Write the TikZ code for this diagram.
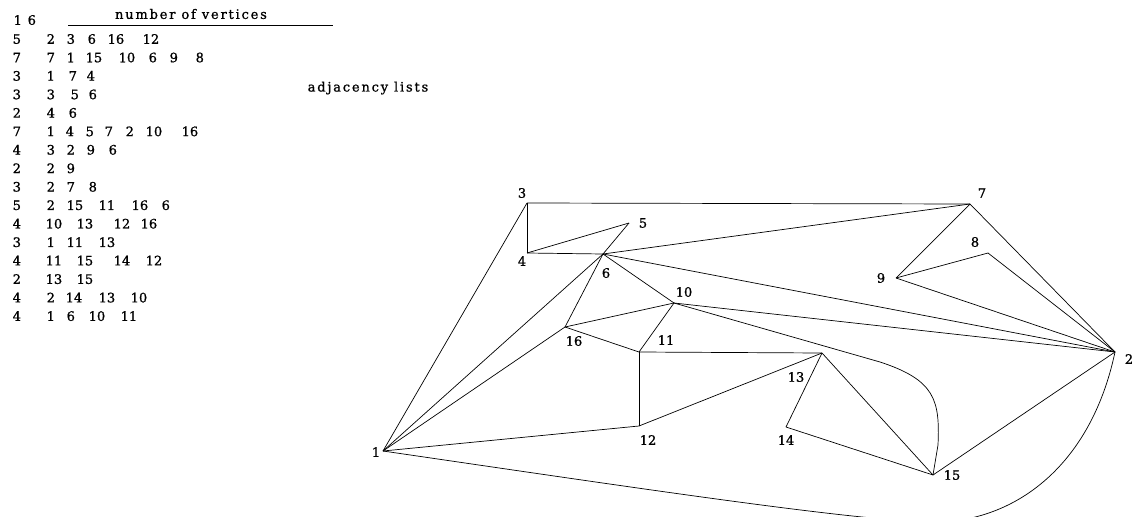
\documentclass[tikz,border=0pt]{standalone}
\usepackage{fontspec}
\setmainfont{DejaVu Serif}
\newfontfamily\boldfont[FakeBold=1]{DejaVu Serif}
\newfontfamily\spacedfont[LetterSpace=14,FakeBold=1]{DejaVu Serif}
\newcommand{\itm}[2]{\rlap{\hskip#1pt\relax #2}}
\begin{document}
\begin{tikzpicture}[x=1pt,y=-1pt,
  txt/.style={inner sep=0pt, font=\fontsize{13}{13}\boldfont},
  lst/.style={txt, anchor=west, text height=9.5pt, text depth=0pt},
  vtx/.style={inner sep=0pt, minimum size=0pt, outer sep=0pt},
  lbl/.style={txt},
  lnk/.style={line width=0.7pt, line join=round}
]
\useasboundingbox (0,0) rectangle (1136,517);
\clip (0,0) rectangle (1136,517);

% ---------- adjacency lists text ----------
\node[lst] (r0)  at (13,20)    {\itm{0}{1}\itm{14}{6}};
\node[txt, font=\fontsize{13}{13}\spacedfont] (title) at (191,14) {number of vertices};
\coordinate (ul) at (68,25);
\coordinate (ur) at (333,25);
\draw[line width=0.8pt] (ul) -- (ur);
\node[txt, font=\fontsize{13}{13}\spacedfont] (adj) at (368,88) {adjacency lists};

\node[lst] (r1)  at (12,39.0)  {\itm{0}{5}\itm{34}{2}\itm{54}{3}\itm{75}{6}\itm{95}{16}\itm{130}{12}};
\node[lst] (r2)  at (12,57.5)  {\itm{0}{7}\itm{34}{7}\itm{54}{1}\itm{73}{15}\itm{106}{10}\itm{136}{6}\itm{157}{9}\itm{183}{8}};
\node[lst] (r3)  at (12,75.9)  {\itm{0}{3}\itm{34}{1}\itm{56}{7}\itm{74}{4}};
\node[lst] (r4)  at (12,94.4)  {\itm{0}{3}\itm{34}{3}\itm{58}{5}\itm{76}{6}};
\node[lst] (r5)  at (12,112.9) {\itm{0}{2}\itm{34}{4}\itm{56}{6}};
\node[lst] (r6)  at (12,131.4) {\itm{0}{7}\itm{34}{1}\itm{53}{4}\itm{73}{5}\itm{92}{7}\itm{113}{2}\itm{133}{10}\itm{169}{16}};
\node[lst] (r7)  at (12,149.8) {\itm{0}{4}\itm{34}{3}\itm{54}{2}\itm{74}{9}\itm{96}{6}};
\node[lst] (r8)  at (12,168.3) {\itm{0}{2}\itm{34}{2}\itm{54}{9}};
\node[lst] (r9)  at (12,186.8) {\itm{0}{3}\itm{34}{2}\itm{54}{7}\itm{76}{8}};
\node[lst] (r10) at (12,205.2) {\itm{0}{5}\itm{34}{2}\itm{54}{15}\itm{86}{11}\itm{119}{16}\itm{149}{6}};
\node[lst] (r11) at (12,223.7) {\itm{0}{4}\itm{33}{10}\itm{64}{13}\itm{101}{12}\itm{128}{16}};
\node[lst] (r12) at (12,242.2) {\itm{0}{3}\itm{34}{1}\itm{54}{11}\itm{86}{13}};
\node[lst] (r13) at (12,260.6) {\itm{0}{4}\itm{33}{11}\itm{64}{15}\itm{101}{14}\itm{133}{12}};
\node[lst] (r14) at (12,279.1) {\itm{0}{2}\itm{33}{13}\itm{64}{15}};
\node[lst] (r15) at (12,297.6) {\itm{0}{4}\itm{34}{2}\itm{53}{14}\itm{86}{13}\itm{118}{10}};
\node[lst] (r16) at (12,316.1) {\itm{0}{4}\itm{34}{1}\itm{54}{6}\itm{76}{10}\itm{108}{11}};

% ---------- graph vertices ----------
\node[vtx] (v1)  at (383,451) {};
\node[vtx] (v2)  at (1115,352) {};
\node[vtx] (v3)  at (527,203) {};
\node[vtx] (v4)  at (527,253) {};
\node[vtx] (v5)  at (629,223) {};
\node[vtx] (v6)  at (603,254) {};
\node[vtx] (v7)  at (970,204) {};
\node[vtx] (v8)  at (988,253) {};
\node[vtx] (v9)  at (896,278) {};
\node[vtx] (v10) at (674,303) {};
\node[vtx] (v11) at (639,352) {};
\node[vtx] (v12) at (639,426) {};
\node[vtx] (v13) at (822,353) {};
\node[vtx] (v14) at (786,427) {};
\node[vtx] (v15) at (933,475) {};
\node[vtx] (v16) at (565,327) {};

% ---------- vertex labels ----------
\node[lbl] (l1)  at (376,452) {1};
\node[lbl] (l2)  at (1129,359) {2};
\node[lbl] (l3)  at (522,193) {3};
\node[lbl] (l4)  at (522,261) {4};
\node[lbl] (l5)  at (643,223) {5};
\node[lbl] (l6)  at (606,273) {6};
\node[lbl] (l7)  at (982,193) {7};
\node[lbl] (l8)  at (975,242) {8};
\node[lbl] (l9)  at (881,278) {9};
\node[lbl] (l10) at (684,292) {10};
\node[lbl] (l11) at (666,340) {11};
\node[lbl] (l12) at (648,440) {12};
\node[lbl] (l13) at (796,377) {13};
\node[lbl] (l14) at (786,440) {14};
\node[lbl] (l15) at (952,475) {15};
\node[lbl] (l16) at (574,341) {16};

% ---------- edges ----------
\draw[lnk] (v1) -- (v3);
\draw[lnk] (v1) -- (v6);
\draw[lnk] (v1) -- (v16);
\draw[lnk] (v1) -- (v12);
\draw[lnk] (v1) .. controls (650,490) and (850,520) .. (930,522)
                .. controls (1010,524) and (1090,470) .. (v2);
\draw[lnk] (v2) -- (v7);
\draw[lnk] (v2) -- (v15);
\draw[lnk] (v2) -- (v10);
\draw[lnk] (v2) -- (v6);
\draw[lnk] (v2) -- (v9);
\draw[lnk] (v2) -- (v8);
\draw[lnk] (v3) -- (v7);
\draw[lnk] (v3) -- (v4);
\draw[lnk] (v4) -- (v5);
\draw[lnk] (v4) -- (v6);
\draw[lnk] (v5) -- (v6);
\draw[lnk] (v6) -- (v7);
\draw[lnk] (v6) -- (v10);
\draw[lnk] (v6) -- (v16);
\draw[lnk] (v7) -- (v9);
\draw[lnk] (v8) -- (v9);
\draw[lnk] (v10) -- (880,362) .. controls (935,380) and (940,400) .. (938,445) -- (v15);
\draw[lnk] (v10) -- (v11);
\draw[lnk] (v10) -- (v16);
\draw[lnk] (v11) -- (v13);
\draw[lnk] (v11) -- (v12);
\draw[lnk] (v11) -- (v16);
\draw[lnk] (v12) -- (v13);
\draw[lnk] (v13) -- (v15);
\draw[lnk] (v13) -- (v14);
\draw[lnk] (v14) -- (v15);
\end{tikzpicture}
\end{document}
